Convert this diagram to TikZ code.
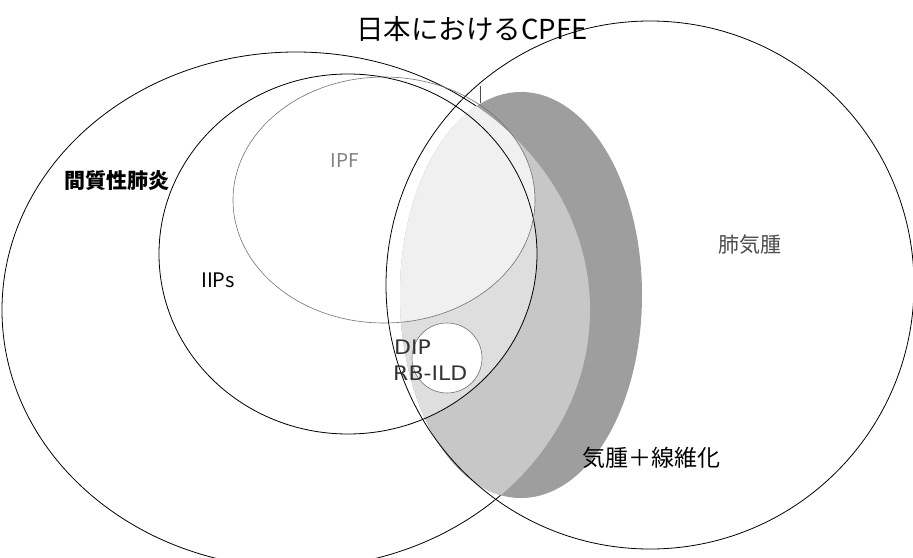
\documentclass[tikz,border=0pt]{standalone}
\usepackage{fontspec}
\newfontfamily\jp{Noto Sans CJK JP}
\newfontfamily\dv{DejaVu Sans}
\begin{document}
\begin{tikzpicture}[x=1pt,y=-1pt,
  outl/.style={draw=black,line width=0.8pt},
  thinl/.style={draw=black!55,line width=0.6pt},
  lab/.style={font=\jp, inner sep=0pt}]
\useasboundingbox (0,0) rectangle (913,557);
\clip (0,0) rectangle (913,557);
% outline of the interstitial pneumonia ellipse (hidden under the fills)
\draw[outl] (296,310) ellipse [x radius=294pt, y radius=258pt];
% dark ellipse and its shaded overlaps
\begin{scope}
  \clip (521,295) ellipse [x radius=121pt, y radius=203pt];
  \fill[black!38] (0,0) rectangle (913,557);
  \begin{scope}
    \clip (650,285) circle [radius=264pt];
    \clip (296,310) ellipse [x radius=294pt, y radius=258pt];
    \fill[black!22] (0,0) rectangle (913,557);
    \fill[black!13] (348,254) ellipse [x radius=189pt, y radius=180pt];
    \fill[black!6] (384,200) ellipse [x radius=151pt, y radius=123pt];
  \end{scope}
\end{scope}
% outlines
\draw[outl] (348,254) ellipse [x radius=189pt, y radius=180pt];
\draw[thinl] (384,200) ellipse [x radius=151pt, y radius=123pt];
\draw[outl] (650,285) circle [radius=264pt];
\draw[thinl, fill=white] (447,358) circle [radius=35pt];
\draw[black!70, line width=0.8pt] (480,86) -- (480,103);
% labels
\node[lab, font=\jp\fontsize{27.5}{32}\selectfont] (title) at (472,29) {日本におけるCPFE};
\node[lab, font=\jp\bfseries\fontsize{21}{25}\selectfont] (ild) at (117,181) {間質性肺炎};
\node[lab, font=\jp\fontsize{20}{24}\selectfont] (iips) at (218,280) {IIPs};
\node[lab, font=\jp\fontsize{19}{23}\selectfont, text=black!50] (ipf) at (345,161) {IPF};
\node[lab, font=\jp\fontsize{21}{25}\selectfont, text=black!70] (emph) at (750,245) {肺気腫};
\node[lab, font=\dv\fontsize{20}{24}\selectfont, text=black!80, anchor=west, xscale=1.1] (dip) at (394,347) {DIP};
\node[lab, font=\dv\fontsize{20}{24}\selectfont, text=black!80, anchor=west, xscale=1.1] (rbild) at (393,373) {RB-ILD};
\node[lab, font=\jp\fontsize{23}{27}\selectfont] (cpfe) at (651,458) {気腫＋線維化};
\end{tikzpicture}
\end{document}
